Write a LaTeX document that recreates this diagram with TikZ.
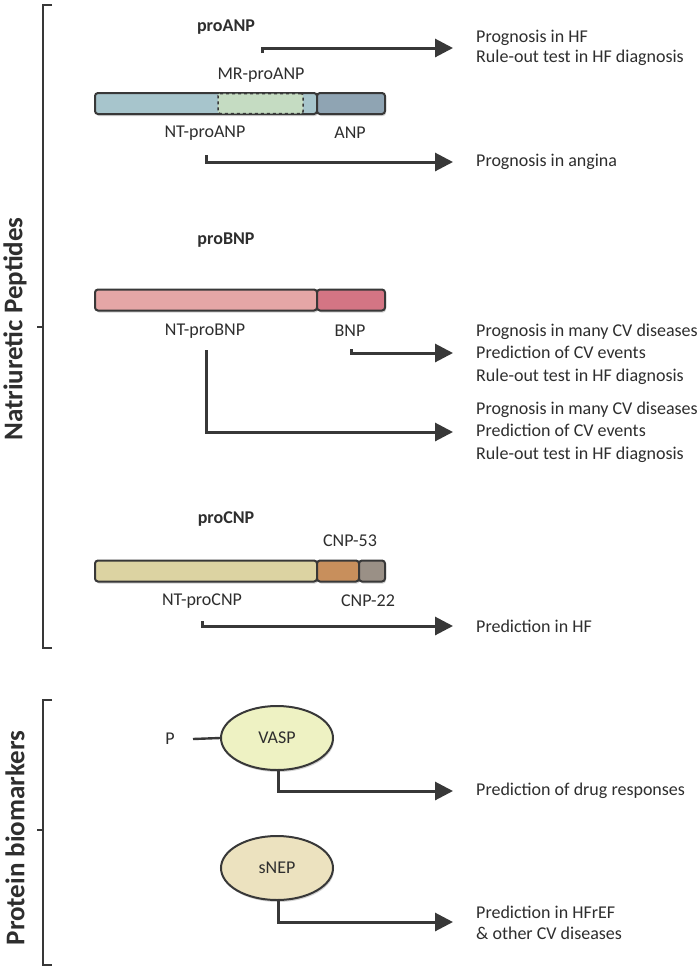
\documentclass[tikz,border=0pt]{standalone}
\usepackage{fontspec}
\setmainfont{Carlito}
\usetikzlibrary{arrows.meta,shadows,shapes.geometric}
\definecolor{ink}{HTML}{383838}
\definecolor{txt}{HTML}{2E2E2E}
\definecolor{ntanp}{HTML}{A7C5CC}
\definecolor{mranp}{HTML}{C5DCC2}
\definecolor{anpc}{HTML}{8FA4B3}
\definecolor{ntbnp}{HTML}{E5A6A6}
\definecolor{bnpc}{HTML}{D47584}
\definecolor{ntcnp}{HTML}{DCD3A2}
\definecolor{cnpa}{HTML}{C88F5C}
\definecolor{cnpb}{HTML}{9A9086}
\definecolor{vaspc}{HTML}{EEF2C3}
\definecolor{snepc}{HTML}{ECE2BF}
\tikzset{
  base/.style={font=\fontsize{18}{20.5}\selectfont, text=txt},
  seg/.style={draw=ink, line width=2pt, rounded corners=3pt, minimum height=21pt, inner sep=0pt,
     drop shadow={opacity=0.35, shadow xshift=1pt, shadow yshift=-2pt}},
  mrbox/.style={draw=ink, dashed, line width=1.5pt, rounded corners=2pt, fill=mranp, minimum height=20pt, minimum width=85pt, inner sep=0pt},
  lab/.style={base, inner sep=0pt},
  title/.style={base, font=\fontsize{18}{21}\selectfont\bfseries, inner sep=0pt},
  outc/.style={base, align=left, anchor=west, inner sep=0pt},
  conn/.style={draw=ink, line width=3pt, -{Triangle[length=18pt,width=18pt]}},
  brk/.style={draw=ink, line width=2.4pt},
  side/.style={font=\fontsize{27}{30}\selectfont\bfseries, text=txt, rotate=90, inner sep=0pt},
  oval/.style={ellipse, draw=ink, line width=2pt, minimum width=112pt, minimum height=64pt, inner sep=0pt,
     drop shadow={opacity=0.35, shadow xshift=1pt, shadow yshift=-2pt}},
}
\begin{document}
\begin{tikzpicture}[x=1pt,y=-1pt]
\useasboundingbox[fill=white] (0,0) rectangle (700,970);

% brackets
\draw[brk] (52,5) -- (43,5) -- (43,648) -- (52,648);
\draw[brk] (43,327) -- (37,327);
\draw[brk] (52,700) -- (43,700) -- (43,965) -- (52,965);
\draw[brk] (43,830) -- (37,830);
\node[side] (np) at (15,329) {Natriuretic Peptides};
\node[side] (pb) at (15,838) {Protein biomarkers};

% proANP
\node[title] (proanp) at (226,27) {proANP};
\node[seg, fill=ntanp, minimum width=222pt] (ntanpbar) at (206,103.5) {};
\node[seg, fill=anpc, minimum width=68pt] (anpbar) at (351,103.5) {};
\node[mrbox] (mrbar) at (260.5,103.5) {};
\node[lab] (mrlab) at (261,75) {MR-proANP};
\node[lab] (ntanplab) at (205,133) {NT-proANP};
\node[lab] (anplab) at (350,133) {ANP};
\node[outc] (o1) at (476,48) {Prognosis in HF\\Rule-out test in HF diagnosis};
\node[outc] (o2) at (476,162) {Prognosis in angina};
\coordinate (a1s) at (262,53); \coordinate (a1c) at (262,48); \coordinate (a1e) at (453,48);
\coordinate (a2s) at (206,155); \coordinate (a2c) at (206,162); \coordinate (a2e) at (453,162);
\draw[conn] (a1s) -- (a1c) -- (a1e);
\draw[conn] (a2s) -- (a2c) -- (a2e);

% proBNP
\node[title] (probnp) at (226,240) {proBNP};
\node[seg, fill=ntbnp, minimum width=222pt] (ntbnpbar) at (206,300) {};
\node[seg, fill=bnpc, minimum width=68pt] (bnpbar) at (351,300) {};
\node[lab] (ntbnplab) at (205,331) {NT-proBNP};
\node[lab] (bnplab) at (350,331) {BNP};
\node[outc, font=\fontsize{18}{22.5}\selectfont] (o3) at (476,354) {Prognosis in many CV diseases\\Prediction of CV events\\Rule-out test in HF diagnosis};
\node[outc, font=\fontsize{18}{22.5}\selectfont] (o4) at (476,432) {Prognosis in many CV diseases\\Prediction of CV events\\Rule-out test in HF diagnosis};
\coordinate (a3s) at (351,349); \coordinate (a3c) at (351,353); \coordinate (a3e) at (453,353);
\coordinate (a4s) at (206,350); \coordinate (a4c) at (206,432); \coordinate (a4e) at (453,432);
\draw[conn] (a3s) -- (a3c) -- (a3e);
\draw[conn] (a4s) -- (a4c) -- (a4e);

% proCNP
\node[title] (procnp) at (226,519) {proCNP};
\node[seg, fill=ntcnp, minimum width=222pt] (ntcnpbar) at (206,571) {};
\node[seg, fill=cnpa, minimum width=42pt] (cnp53bar) at (338,571) {};
\node[seg, fill=cnpb, minimum width=26pt] (cnp22bar) at (372,571) {};
\node[lab] (cnp53lab) at (350,541) {CNP-53};
\node[lab] (ntcnplab) at (202,601) {NT-proCNP};
\node[lab] (cnp22lab) at (368,601) {CNP-22};
\node[outc] (o5) at (476,626) {Prediction in HF};
\coordinate (a5s) at (202,621); \coordinate (a5c) at (202,626); \coordinate (a5e) at (453,626);
\draw[conn] (a5s) -- (a5c) -- (a5e);

% VASP
\node[oval, fill=vaspc] (vasp) at (277,738) {\fontsize{18}{21}\selectfont\color{txt}VASP};
\node[lab] (p) at (170,739) {P};
\draw[brk] (193,739) -- (vasp.west);
\node[outc] (o6) at (476,791) {Prediction of drug responses};
\coordinate (a6c) at (278,791); \coordinate (a6e) at (453,791);
\draw[conn] (vasp.south -| a6c) -- (a6c) -- (a6e);

% sNEP
\node[oval, fill=snepc] (snep) at (277,868) {\fontsize{18}{21}\selectfont\color{txt}sNEP};
\node[outc] (o7) at (476,923) {Prediction in HFrEF\\\&~other CV diseases};
\coordinate (a7c) at (278,922); \coordinate (a7e) at (453,922);
\draw[conn] (snep.south -| a7c) -- (a7c) -- (a7e);
\end{tikzpicture}
\end{document}
